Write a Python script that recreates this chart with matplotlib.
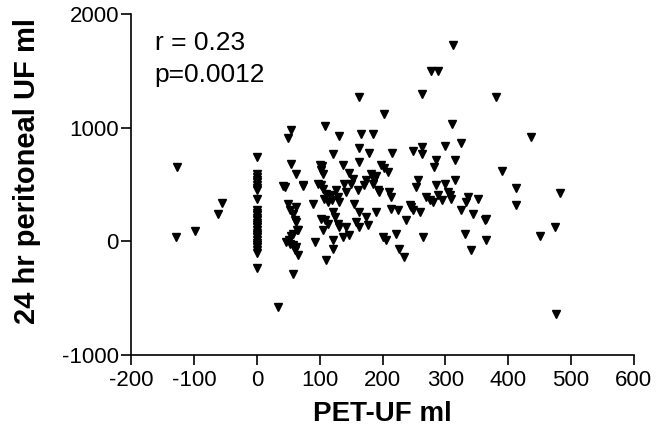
import matplotlib as mlp
mlp.use('Agg')
import matplotlib.pyplot as plt
from matplotlib import rcParams
rcParams['font.family'] = 'Liberation Sans'
rcParams['font.size'] = 16
rcParams['axes.unicode_minus'] = False

# PET-UF (ml) values
pet_uf = [
    0, 0, 0, 0, 0, 0, 0, 0, 0, 0, 0, 0, 0, 0, 0, 0, 0, 0, 0, 0, 0, 0, 0, 0, 0, 0, 0, 0,
    -128, -129, -98, -62, -55, 33, 476,
    49, 52, 62, 57, 60, 62, 63, 65, 57, 54, 51, 46, 52, 57, 62, 60, 65, 57,
    54, 62, 41, 44, 74, 55, 50,
    163, 179, 121, 215, 248, 263, 263, 300, 325, 315, 285, 282, 100, 104, 102, 105,
    137, 163, 198, 203, 208, 182, 190, 187, 147, 153, 150, 174, 171, 74, 98, 102,
    105, 110, 107, 118, 120, 113, 126, 129, 131, 139, 142, 161, 185, 192, 195, 211,
    214, 256, 253, 285, 299, 315, 270, 275, 280, 288, 294, 304, 307, 309, 336, 333,
    352, 89, 155, 163, 190, 214, 224, 243, 246, 248, 259, 102, 108, 113, 105, 121,
    124, 129, 131, 158, 163, 174, 177, 142, 137, 147, 121, 92, 201, 206, 222, 238,
    264, 227, 235, 121, 110, 331, 341, 365, 363, 365, 325, 344,
    312, 277, 288, 163, 263, 203, 109, 131, 166, 185, 310,
    380, 437, 391, 413, 413, 483, 474, 451,
]
# 24 hr peritoneal UF (ml)
peritoneal_uf = [
    745, 592, 568, 545, 525, 495, 474, 451, 378, 275, 252, 231, 211, 187, 164, 143,
    123, 99, 76, 55, 35, 11, -12, -33, -53, -76, -100, -237,
    660, 40, 95, 245, 335, -580, -640,
    334, 275, 304, 246, 193, 172, 105, 99, 70, 46, 11, -3, -18, -33, -47, -76, -120, -282,
    686, 592, 486, 480, 490, 980, 910,
    827, 779, 774, 781, 797, 833, 768, 838, 867, 715, 721, 656, 671, 662, 627, 598,
    671, 700, 671, 650, 612, 598, 575, 539, 604, 554, 510, 539, 495, 495, 510, 495,
    466, 422, 378, 407, 363, 348, 457, 392, 348, 510, 436, 457, 510, 451, 436, 436,
    392, 539, 480, 495, 510, 539, 392, 363, 348, 407, 363, 436, 407, 378, 392, 348,
    378, 334, 334, 260, 260, 284, 275, 319, 304, 275, 260, 202, 187, 158, 99, 260,
    216, 158, 128, 172, 128, 216, 143, 128, 40, 55, 11, -3, 40, 11, 64, 187,
    40, -62, -135, -70, -165, 70, -76, 11, 187, 202, 281, 246,
    1730, 1500, 1500, 1270, 1300, 1120, 1020, 930, 950, 950, 1030,
    1270, 920, 620, 470, 320, 430, 130, 50,
]

x_ticks = [-200, -100, 0, 100, 200, 300, 400, 500, 600]
y_ticks = [-1000, 0, 1000, 2000]

fig = plt.figure(figsize=(6.67, 4.33), dpi=100)
ax = fig.add_axes([0.197, 0.180, 0.753, 0.787])

ax.plot(pet_uf, peritoneal_uf, linestyle='none', marker='v', markersize=6, color='black')

ax.set_xlim(-200, 600)
ax.set_ylim(-1000, 2000)
ax.set_xticks(x_ticks)
ax.set_yticks(y_ticks)
ax.spines['top'].set_visible(False)
ax.spines['right'].set_visible(False)
for s in ['left', 'bottom']:
    ax.spines[s].set_linewidth(1.2)
ax.tick_params(direction='out', length=7, width=1.2, labelsize=16)
ax.tick_params(axis='x', pad=4)
ax.tick_params(axis='y', pad=2)

ax.set_xlabel('PET-UF ml', fontsize=20, fontweight='bold', labelpad=7)
ax.set_ylabel('24 hr peritoneal UF ml', fontsize=21, fontweight='bold')
ax.yaxis.set_label_coords(-0.18, 0.54)

ax.text(0.046, 0.915, 'r = 0.23', fontsize=19, va='center', transform=ax.transAxes)
ax.text(0.046, 0.822, 'p=0.0012', fontsize=19, va='center', transform=ax.transAxes)

fig.savefig('out.png', dpi=100)
